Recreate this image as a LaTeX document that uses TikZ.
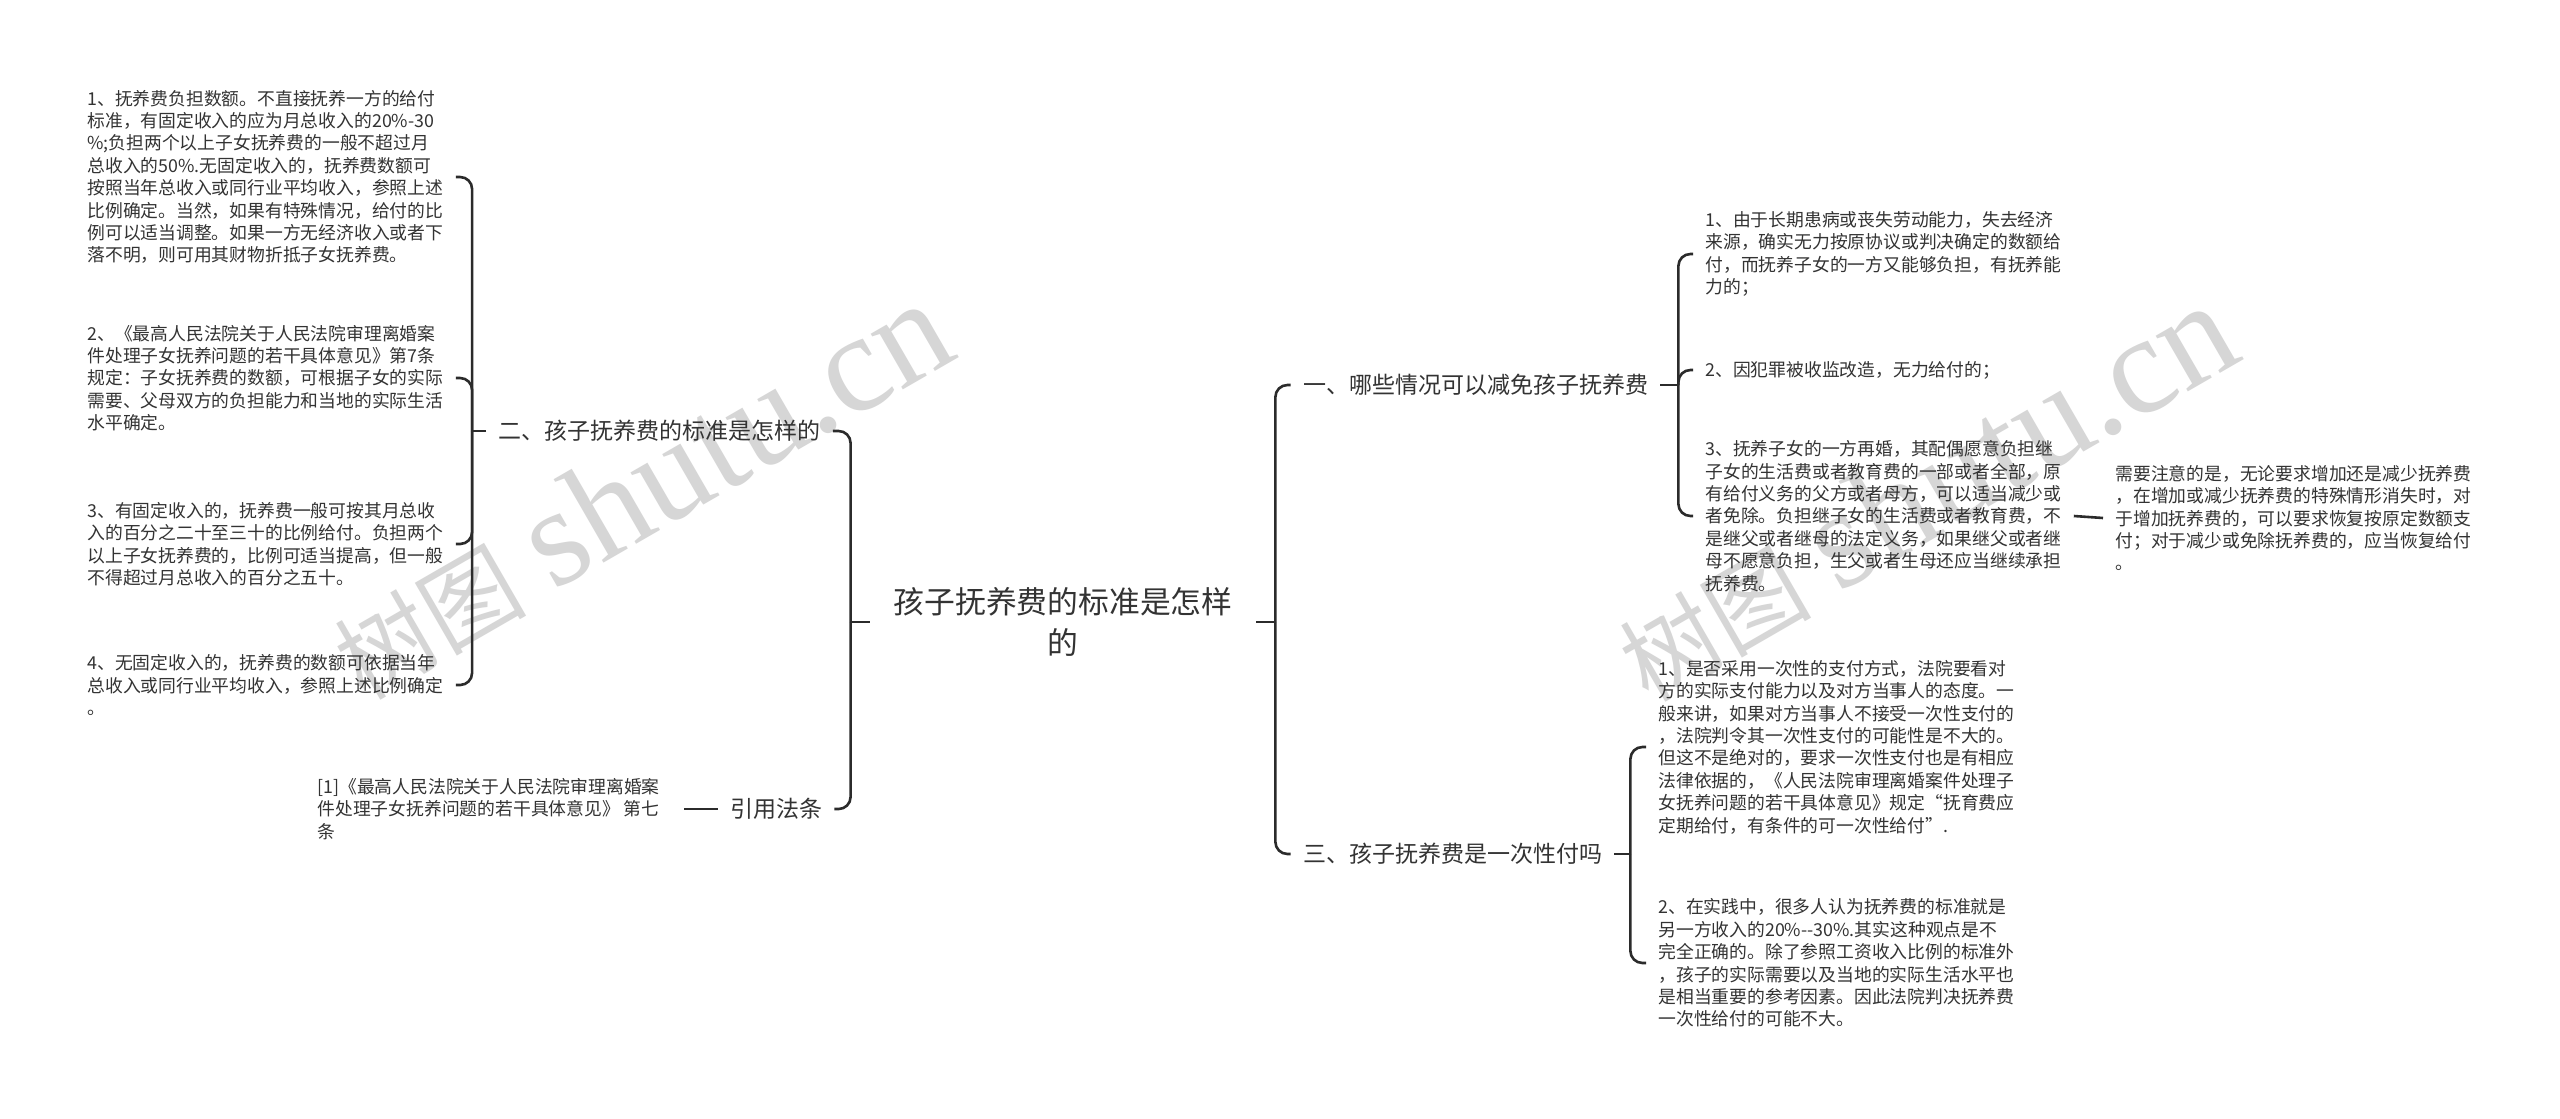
\documentclass[tikz,border=0pt]{standalone}
\usepackage{fontspec}
\setmainfont{Noto Sans CJK SC}
\newfontfamily\marklatin{Liberation Serif}
\definecolor{inktext}{HTML}{333333}
\definecolor{inkline}{HTML}{2B2B2B}
\definecolor{inkmark}{HTML}{D6D6D6}
\newcommand{\leafnote}[4]{%
  \node[leaf] (#1) at (#2,#3) {#4};}
\newcommand{\marktext}{{\fontsize{48}{48}\selectfont 树图}\hspace{14pt}%
  {\marklatin\fontsize{70}{70}\selectfont shutu.cn}}

\begin{document}
\begin{tikzpicture}[x=0.5pt, y=-0.5pt,
    leaf/.style={anchor=west, align=left, text=inktext, inner xsep=6pt,
                 inner ysep=2pt, font=\fontsize{8.9}{11.2}\selectfont},
    topic/.style={text=inktext, inner xsep=6pt, font=\fontsize{11.5}{14}\selectfont},
    link/.style={draw=inkline, line width=1.3pt, rounded corners=6pt},
    wmark/.style={text=inkmark, rotate=30, inner sep=0pt}]
  \useasboundingbox[fill=white] (0,0) rectangle (2560,1119);

  % watermark
  \node[wmark] (wm1) at (640,490) {\marktext};
  \node[wmark] (wm2) at (1925,492) {\marktext};

  % root and topics
  \node[text=inktext, align=center, inner xsep=11.8pt,
        font=\fontsize{15.4}{20.5}\selectfont] (root) at (1063,622)
        {孩子抚养费的标准是怎样\\的};
  \node[topic] (b2) at (659.5,431) {二、孩子抚养费的标准是怎样的};
  \node[topic] (bref) at (776,809) {引用法条};
  \node[topic] (b1) at (1475.5,385) {一、哪些情况可以减免孩子抚养费};
  \node[topic] (b3) at (1452.5,854) {三、孩子抚养费是一次性付吗};

  % left leaves
  \leafnote{l1}{75}{177}{1、抚养费负担数额。不直接抚养一方的给付\\
    标准，有固定收入的应为月总收入的20\%-30\\
    \%;负担两个以上子女抚养费的一般不超过月\\
    总收入的50\%.无固定收入的，抚养费数额可\\
    按照当年总收入或同行业平均收入，参照上述\\
    比例确定。当然，如果有特殊情况，给付的比\\
    例可以适当调整。如果一方无经济收入或者下\\
    落不明，则可用其财物折抵子女抚养费。}
  \leafnote{l2}{75}{378}{2、《最高人民法院关于人民法院审理离婚案\\
    件处理子女抚养问题的若干具体意见》第7条\\
    规定：子女抚养费的数额，可根据子女的实际\\
    需要、父母双方的负担能力和当地的实际生活\\
    水平确定。}
  \leafnote{l3}{75}{544}{3、有固定收入的，抚养费一般可按其月总收\\
    入的百分之二十至三十的比例给付。负担两个\\
    以上子女抚养费的，比例可适当提高，但一般\\
    不得超过月总收入的百分之五十。}
  \leafnote{l4}{75}{685}{4、无固定收入的，抚养费的数额可依据当年\\
    总收入或同行业平均收入，参照上述比例确定\\
    。}
  \leafnote{cite}{305}{809}{[1]《最高人民法院关于人民法院审理离婚案\\
    件处理子女抚养问题的若干具体意见》 第七\\
    条}

  % right leaves
  \leafnote{r1}{1693}{254}{1、由于长期患病或丧失劳动能力，失去经济\\
    来源，确实无力按原协议或判决确定的数额给\\
    付，而抚养子女的一方又能够负担，有抚养能\\
    力的；}
  \leafnote{r2}{1693}{370}{2、因犯罪被收监改造，无力给付的；}
  \leafnote{r3}{1693}{516}{3、抚养子女的一方再婚，其配偶愿意负担继\\
    子女的生活费或者教育费的一部或者全部，原\\
    有给付义务的父方或者母方，可以适当减少或\\
    者免除。负担继子女的生活费或者教育费，不\\
    是继父或者继母的法定义务，如果继父或者继\\
    母不愿意负担，生父或者生母还应当继续承担\\
    抚养费。}
  \leafnote{r3a}{2103}{518}{需要注意的是，无论要求增加还是减少抚养费\\
    ，在增加或减少抚养费的特殊情形消失时，对\\
    于增加抚养费的，可以要求恢复按原定数额支\\
    付；对于减少或免除抚养费的，应当恢复给付\\
    。}
  \leafnote{s1}{1646}{747}{1、是否采用一次性的支付方式，法院要看对\\
    方的实际支付能力以及对方当事人的态度。一\\
    般来讲，如果对方当事人不接受一次性支付的\\
    ，法院判令其一次性支付的可能性是不大的。\\
    但这不是绝对的，要求一次性支付也是有相应\\
    法律依据的，《人民法院审理离婚案件处理子\\
    女抚养问题的若干具体意见》规定“抚育费应\\
    定期给付，有条件的可一次性给付”.}
  \leafnote{s2}{1646}{963}{2、在实践中，很多人认为抚养费的标准就是\\
    另一方收入的20\%-{}-30\%.其实这种观点是不\\
    完全正确的。除了参照工资收入比例的标准外\\
    ，孩子的实际需要以及当地的实际生活水平也\\
    是相当重要的参考因素。因此法院判决抚养费\\
    一次性给付的可能不大。}

  % connectors
  \coordinate (rootl) at ([xshift=-9.5pt]root.west);
  \coordinate (rootr) at ([xshift=9.5pt]root.east);
  \coordinate (b2j) at ([xshift=-7pt]b2.west);
  \coordinate (b1j) at ([xshift=9pt]b1.east);
  \coordinate (b3j) at ([xshift=8pt]b3.east);
  \draw[link] (root.west) -- (rootl);
  \draw[link] (rootl) |- (b2.east);
  \draw[link] (rootl) |- (bref.east);
  \draw[link] (root.east) -- (rootr);
  \draw[link] (rootr) |- (b1.west);
  \draw[link] (rootr) |- (b3.west);
  \draw[link] (b2.west) -- (b2j);
  \foreach \leafname in {l1,l2,l3,l4}
    \draw[link] (b2j) |- (\leafname.east);
  \draw[link] (bref.west) -- ([xshift=6pt]cite.east);
  \draw[link] (b1.east) -- (b1j);
  \foreach \leafname in {r1,r2,r3}
    \draw[link] (b1j) |- (\leafname.west);
  \draw[link] (r3.east) -- (r3a.west);
  \draw[link] (b3.east) -- (b3j);
  \foreach \leafname in {s1,s2}
    \draw[link] (b3j) |- (\leafname.west);
\end{tikzpicture}
\end{document}
